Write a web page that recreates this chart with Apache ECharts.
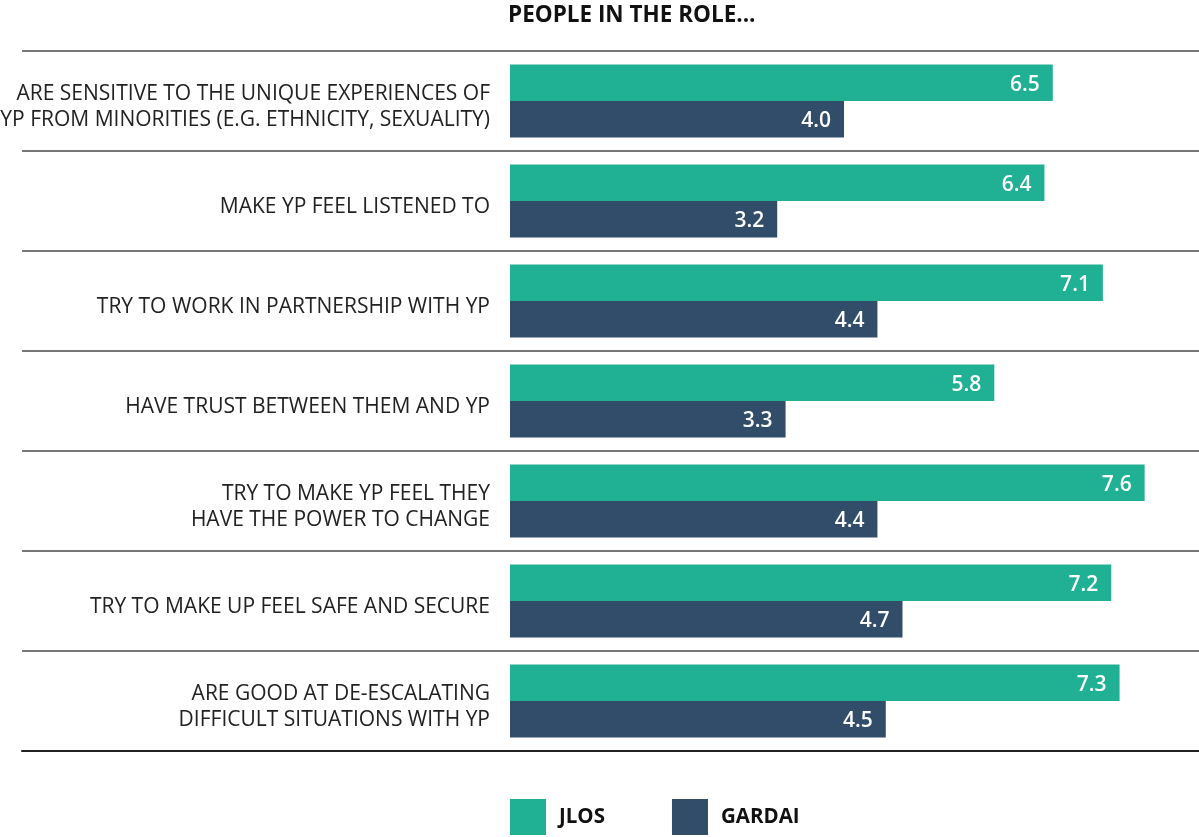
<!DOCTYPE html>
<html>
<head>
<meta charset="utf-8">
<script src="https://cdn.jsdelivr.net/npm/echarts@6/dist/echarts.min.js"></script>
<style>html,body{margin:0;padding:0;background:#fff;}#c{width:1199px;height:837px;}</style>
</head>
<body>
<div id="c"></div>
<script>
const categories = [
  "ARE SENSITIVE TO THE UNIQUE EXPERIENCES OF\nYP FROM MINORITIES (E.G. ETHNICITY, SEXUALITY)",
  "MAKE YP FEEL LISTENED TO",
  "TRY TO WORK IN PARTNERSHIP WITH YP",
  "HAVE TRUST BETWEEN THEM AND YP",
  "TRY TO MAKE YP FEEL THEY\nHAVE THE POWER TO CHANGE",
  "TRY TO MAKE UP FEEL SAFE AND SECURE",
  "ARE GOOD AT DE-ESCALATING\nDIFFICULT SITUATIONS WITH YP"
];
const jlos = [6.5, 6.4, 7.1, 5.8, 7.6, 7.2, 7.3];
const gardai = [4.0, 3.2, 4.4, 3.3, 4.4, 4.7, 4.5];
const seriesNames = ["JLOS", "GARDAI"];

const chart = echarts.init(document.getElementById('c'), null, {renderer: 'canvas'});
const font = "'Open Sans', sans-serif";
const label = {
  show: true, position: 'insideRight', distance: 13, color: '#fff', offset: [0, 2],
  fontFamily: font, fontSize: 21, fontWeight: 600,
  formatter: p => p.value.toFixed(1)
};
chart.setOption({
  animation: false,
  textStyle: {fontFamily: font},
  title: {
    text: 'PEOPLE IN THE ROLE...', left: 508, top: 4, padding: 0,
    textStyle: {fontFamily: font, fontSize: 22.5, fontWeight: 'bold', color: '#111'}
  },
  legend: {
    data: seriesNames, left: 510, top: 799, padding: 0, itemWidth: 36, itemHeight: 36, itemGap: 67,
    icon: 'rect',
    textStyle: {fontFamily: font, fontSize: 20.5, fontWeight: 'bold', color: '#111', padding: [4, 0, 0, 8]}
  },
  grid: {left: 22, right: 0, top: 51, height: 700, outerBoundsMode: 'none'},
  xAxis: {
    type: 'value', min: -5.844, max: 8.251,
    axisLabel: {show: false}, axisTick: {show: false}, splitLine: {show: false},
    axisLine: {show: true, onZero: false, lineStyle: {color: '#222', width: 2}}
  },
  yAxis: {
    type: 'category', data: categories, inverse: true, offset: -488,
    axisLine: {show: false, onZero: false},
    axisTick: {show: false},
    splitLine: {show: true, lineStyle: {color: '#777', width: 2}},
    axisLabel: {
      margin: 20, fontFamily: font, fontSize: 21, color: '#222', lineHeight: 26, align: 'right',
      formatter: v => '{s| }\n' + v,
      rich: {s: {fontSize: 2, lineHeight: 12}}
    }
  },
  series: [
    {name: seriesNames[0], type: 'bar', data: jlos, barGap: '0%', barCategoryGap: '27%',
     itemStyle: {color: '#20B093'}, label: label},
    {name: seriesNames[1], type: 'bar', data: gardai, barGap: '0%', barCategoryGap: '27%',
     itemStyle: {color: '#324D6A'}, label: label}
  ]
});
</script>
</body>
</html>
